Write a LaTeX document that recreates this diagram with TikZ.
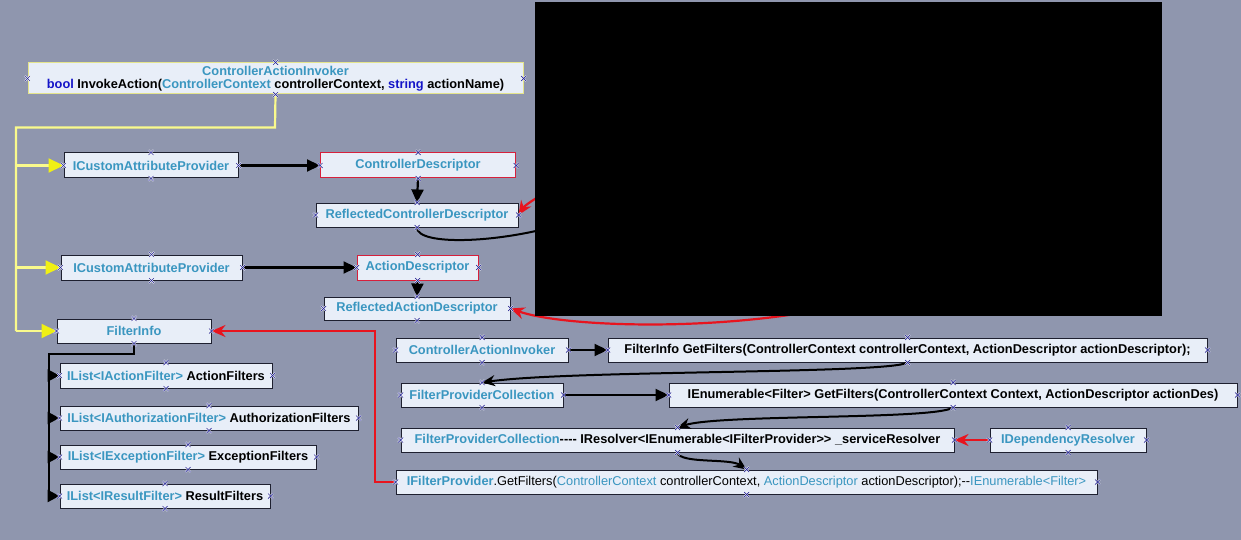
\documentclass[tikz,border=0pt]{standalone}
\usepackage{fontspec}
\setmainfont{Liberation Sans}
\usetikzlibrary{arrows.meta}
\definecolor{bgc}{RGB}{143,150,174}
\definecolor{boxfill}{RGB}{232,238,248}
\definecolor{boxline}{RGB}{30,32,48}
\definecolor{redline}{RGB}{214,32,60}
\definecolor{tealc}{RGB}{58,150,192}
\definecolor{bluec}{RGB}{20,20,200}
\definecolor{yline}{RGB}{250,250,140}
\definecolor{ytip}{RGB}{240,240,20}
\definecolor{redc}{RGB}{232,20,30}
\definecolor{caiborder}{RGB}{228,228,140}
\definecolor{xmkc}{RGB}{40,40,150}
\newcommand\tteal[1]{\textcolor{tealc}{#1}}
\newcommand\tblue[1]{\textcolor{bluec}{#1}}
\newcommand\hy{\mbox{-}}
\begin{document}
\begin{tikzpicture}[x=1pt,y=-1pt,
  every node/.style={font=\fontsize{12.8}{15}\selectfont\bfseries},
  box/.style={draw=boxline, fill=boxfill, line width=1pt, inner sep=0pt, minimum height=24pt, text=black},
  redbox/.style={box, draw=redline},
  conn/.style={line width=2.2pt, black, -{Triangle[length=13pt,width=12pt]}},
  sconn/.style={line width=2pt, black, -{Stealth[length=13pt,width=11pt]}},
  yconn/.style={line width=2.2pt, yline, -{Triangle[length=15pt,width=14pt,color=ytip]}},
  rconn/.style={line width=2.2pt, redc, -{Stealth[length=14pt,width=12pt]}},
  xmkw/.style={line width=1.6pt, white},
  xmk/.style={line width=0.7pt, xmkc}
]
\useasboundingbox (0,0) rectangle (1241,540);
\fill[bgc] (0,0) rectangle (1241,540);

% boxes
\node[box, draw=caiborder, minimum width=495pt, minimum height=31pt, align=center] (cai) at (275.5,78.5)
  {\tteal{ControllerActionInvoker}\\[-2pt]\tblue{bool} InvokeAction(\tteal{ControllerContext} controllerContext, \tblue{string} actionName)};
\node[box, minimum width=174pt, minimum height=25pt] (icap1) at (151,165.5) {\tteal{ICustomAttributeProvider}};
\node[redbox, minimum width=195pt, minimum height=25pt] (cd) at (418,165.5) {\tteal{ControllerDescriptor}};
\node[box, minimum width=202pt] (rcd) at (417,215) {\tteal{ReflectedControllerDescriptor}};
\node[box, minimum width=181pt, minimum height=25pt] (icap2) at (151.5,267.5) {\tteal{ICustomAttributeProvider}};
\node[redbox, minimum width=121pt, minimum height=25pt] (ad) at (417.5,267.5) {\tteal{ActionDescriptor}};
\node[box, minimum width=186pt, minimum height=23pt] (rad) at (417,308.5) {\tteal{ReflectedActionDescriptor}};
\node[box, minimum width=154pt] (fi) at (134,331) {\tteal{FilterInfo}};
\node[box, minimum width=212pt, minimum height=25pt] (l1) at (166,375.5) {\tteal{IList<IActionFilter>} ActionFilters};
\node[box, minimum width=298pt] (l2) at (209,418) {\tteal{IList<IAuthorizationFilter>} AuthorizationFilters};
\node[box, minimum width=256pt] (l3) at (188,457) {\tteal{IList<IExceptionFilter>} ExceptionFilters};
\node[box, minimum width=210pt] (l4) at (165,496) {\tteal{IList<IResultFilter>} ResultFilters};
\node[box, minimum width=172pt] (cai2) at (482,350) {\tteal{ControllerActionInvoker}};
\node[box, minimum width=599pt] (figf) at (907.5,350) {FilterInfo GetFilters(ControllerContext controllerContext, ActionDescriptor actionDescriptor);};
\node[box, minimum width=162pt] (fpc) at (482,395) {\tteal{FilterProviderCollection}};
\node[box, minimum width=568pt] (ienum) at (953,395) {IEnumerable<Filter> GetFilters(ControllerContext Context, ActionDescriptor actionDes)};
\node[box, minimum width=553pt] (fpc2) at (677.5,440) {\tteal{FilterProviderCollection}\hy\hy\hy\hy{} IResolver<IEnumerable<IFilterProvider>{}> \_serviceResolver};
\node[box, minimum width=156pt] (idr) at (1068,440) {\tteal{IDependencyResolver}};
\node[box, minimum width=701pt] (ifp) at (746.5,482) {\tteal{IFilterProvider}\mdseries.GetFilters(\tteal{ControllerContext} controllerContext, \tteal{ActionDescriptor} actionDescriptor);\hy\hy\tteal{IEnumerable<Filter>}};

% free ends inside the black area
\coordinate (bk1) at (560,185);
\coordinate (bk2) at (570,222);
\coordinate (bk3) at (820,310);
\coordinate (yc) at (275,127.5);
\coordinate (ybot) at (16,331);
\coordinate (fj) at (49,354);

% yellow connectors
\draw[line width=2.2pt, yline] (cai.south) -- (yc) -| (ybot);
\draw[yconn] (16,165.5) -- (icap1.west);
\draw[yconn] (16,267.5) -- (icap2.west);
\draw[yconn] (ybot) -- (fi.west);

% black connectors, top
\draw[conn] (icap1.east) -- (cd.west);
\draw[conn] (cd.south) -- (rcd.north);
\draw[conn] (icap2.east) -- (ad.west);
\draw[conn] (ad.south) -- (rad.north);
\draw[line width=2pt, black] (rcd.south) .. controls (417,246) and (500,244) .. (bk2);

% red connectors
\draw[rconn] (bk1) .. controls (540,195) and (525,205) .. (rcd.east);
\draw[rconn] (bk3) .. controls (700,332) and (560,326) .. (rad.east);
\draw[rconn] (ifp.west) -- (375,482) |- (fi.east);
\draw[rconn] (idr.west) -- (fpc2.east);

% filter list connectors
\draw[line width=2.2pt, black] (fi.south) |- (fj) -- (49,497);
\foreach \b/\y in {l1/375.5, l2/418, l3/457, l4/496}
  \draw[line width=2.2pt, black, -{Triangle[length=12pt,width=12pt]}] (49,\y) -- (\b.west);

% black area
\fill[black] (535,2) rectangle (1162,316);

% bottom right connectors
\draw[conn] (cai2.east) -- (figf.west);
\draw[sconn] (figf.south) .. controls (890,374) and (570,370) .. (fpc.north);
\draw[conn] (fpc.east) -- (ienum.west);
\draw[sconn] (ienum.south) .. controls (935,420) and (720,414) .. (fpc2.north);
\draw[sconn] (fpc2.south) .. controls (680,464) and (730,458) .. (ifp.north);

% connection point markers
\foreach \n in {cai,icap1,cd,rcd,icap2,ad,rad,fi,l1,l2,l3,l4,cai2,figf,fpc,ienum,fpc2,idr,ifp}
  \foreach \a in {north,south,east,west}{
    \draw[xmkw] (\n.\a) +(-2.5,-2.5) -- +(2.5,2.5) +(-2.5,2.5) -- +(2.5,-2.5);
    \draw[xmk] (\n.\a) +(-2.5,-2.5) -- +(2.5,2.5) +(-2.5,2.5) -- +(2.5,-2.5);
  }
\end{tikzpicture}
\end{document}
